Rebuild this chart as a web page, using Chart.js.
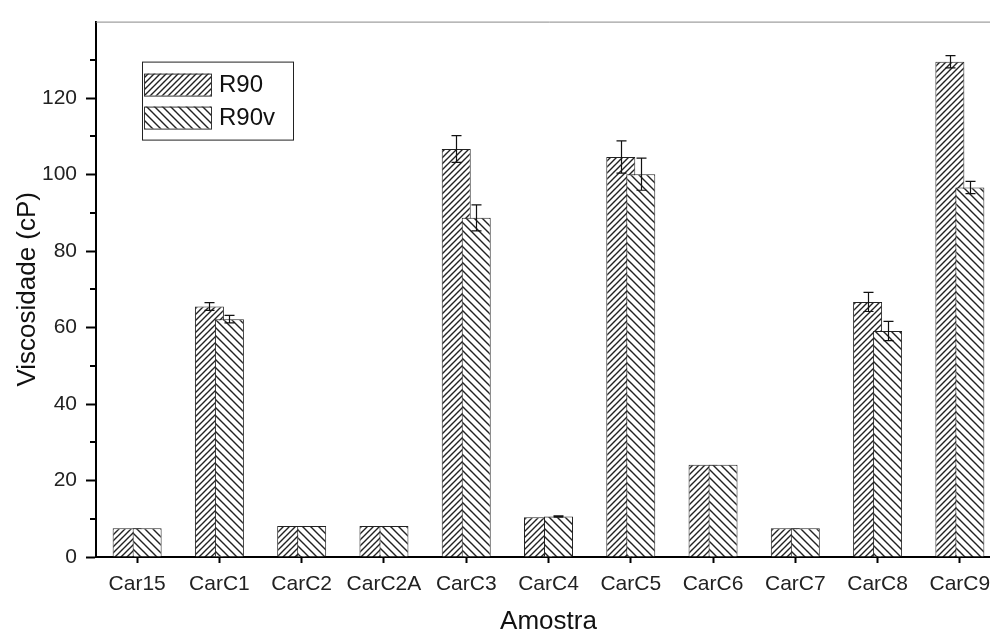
<!DOCTYPE html>
<html>
<head>
<meta charset="utf-8">
<script src="https://cdn.jsdelivr.net/npm/chart.js@4.4.1/dist/chart.umd.min.js"></script>
<style>
  html, body { margin: 0; padding: 0; background: #fff; overflow: hidden; }
  canvas { display: block; }
</style>
</head>
<body>
<canvas id="chart" width="1003" height="637"></canvas>
<script>
const samples = ['Car15', 'CarC1', 'CarC2', 'CarC2A', 'CarC3', 'CarC4', 'CarC5', 'CarC6', 'CarC7', 'CarC8', 'CarC9'];
const r90 = [7.5, 65.5, 8.1, 8.1, 106.7, 10.4, 104.6, 24.1, 7.5, 66.7, 129.5];
const r90Err = [0, 1.0, 0, 0, 3.5, 0, 4.2, 0, 0, 2.5, 1.6];
const r90v = [7.5, 62.2, 8.1, 8.1, 88.7, 10.6, 100.1, 24.1, 7.5, 59.1, 96.6];
const r90vErr = [0, 1.0, 0, 0, 3.4, 0.15, 4.2, 0, 0, 2.5, 1.6];
const yMajorTicks = [0, 20, 40, 60, 80, 100, 120];
const yMinorTicks = [10, 30, 50, 70, 90, 110, 130];

const FONT = "'Liberation Sans', Arial, sans-serif";
Chart.defaults.font.family = FONT;

const canvas = document.getElementById('chart');
const ctx = canvas.getContext('2d');

// hatch fill: forward = '/' lines, otherwise '\'
function makeHatch(spacing, forward) {
  const tile = document.createElement('canvas');
  tile.width = spacing;
  tile.height = spacing;
  const g = tile.getContext('2d');
  g.fillStyle = '#fff';
  g.fillRect(0, 0, spacing, spacing);
  g.strokeStyle = '#222';
  g.lineWidth = 1.4;
  g.beginPath();
  if (forward) {
    g.moveTo(-1, spacing + 1); g.lineTo(spacing + 1, -1);
    g.moveTo(-1, 1); g.lineTo(1, -1);
    g.moveTo(spacing - 1, spacing + 1); g.lineTo(spacing + 1, spacing - 1);
  } else {
    g.moveTo(-1, -1); g.lineTo(spacing + 1, spacing + 1);
    g.moveTo(spacing - 1, -1); g.lineTo(spacing + 1, 1);
    g.moveTo(-1, spacing - 1); g.lineTo(1, spacing + 1);
  }
  g.stroke();
  return ctx.createPattern(tile, 'repeat');
}

const hatchR90 = makeHatch(6, true);
const hatchR90v = makeHatch(8, false);

// R90 drawn first so that R90v overlaps it
const drawOrder = {
  id: 'drawOrder',
  beforeDatasetsDraw(chart) {
    chart.getDatasetMeta(0).controller.draw();
  },
  beforeDatasetDraw(chart, args) {
    if (args.index === 0) return false;
  },
};

const errorBars = {
  id: 'errorBars',
  afterDatasetsDraw(chart) {
    const c = chart.ctx;
    const y = chart.scales.y;
    c.save();
    c.strokeStyle = '#111';
    c.lineWidth = 1.2;
    chart.data.datasets.forEach((ds, di) => {
      chart.getDatasetMeta(di).data.forEach((bar, i) => {
        const err = ds.errors[i];
        if (!err) return;
        const x = Math.round(bar.x) + 0.5;
        const top = y.getPixelForValue(ds.data[i] + err);
        const bot = y.getPixelForValue(ds.data[i] - err);
        c.beginPath();
        c.moveTo(x, top); c.lineTo(x, bot);
        c.moveTo(x - 5, top); c.lineTo(x + 5, top);
        c.moveTo(x - 5, bot); c.lineTo(x + 5, bot);
        c.stroke();
      });
    });
    c.restore();
  },
};

const frame = {
  id: 'frame',
  afterDraw(chart) {
    const c = chart.ctx;
    const area = chart.chartArea;
    const y = chart.scales.y;
    c.save();
    // top border
    c.strokeStyle = '#888';
    c.lineWidth = 1;
    c.beginPath();
    c.moveTo(area.left, area.top + 0.5);
    c.lineTo(chart.width, area.top + 0.5);
    c.stroke();
    // minor ticks
    c.strokeStyle = '#000';
    c.lineWidth = 2;
    yMinorTicks.forEach(v => {
      const py = Math.round(y.getPixelForValue(v));
      c.beginPath();
      c.moveTo(area.left - 6, py);
      c.lineTo(area.left, py);
      c.stroke();
    });
    // legend
    const lx = area.left + 46;
    const ly = area.top + 40;
    c.lineWidth = 1;
    c.strokeStyle = '#222';
    c.strokeRect(lx + 0.5, ly + 0.5, 151, 78);
    c.font = `24px ${FONT}`;
    c.textBaseline = 'middle';
    chart.data.datasets.forEach((ds, i) => {
      const sy = ly + 12 + i * 33;
      c.fillStyle = ds.backgroundColor;
      c.fillRect(lx + 2, sy, 67, 22);
      c.strokeStyle = '#333';
      c.strokeRect(lx + 2.5, sy + 0.5, 67, 22);
      c.fillStyle = '#111';
      c.fillText(ds.label, lx + 77, sy + 12);
    });
    c.restore();
  },
};

new Chart(ctx, {
  type: 'bar',
  data: {
    labels: samples,
    datasets: [
      {
        label: 'R90',
        data: r90,
        errors: r90Err,
        backgroundColor: hatchR90,
        borderColor: '#222',
        borderWidth: 1,
        categoryPercentage: 0.486,
        barPercentage: 1.45,
      },
      {
        label: 'R90v',
        data: r90v,
        errors: r90vErr,
        backgroundColor: hatchR90v,
        borderColor: '#222',
        borderWidth: 1,
        categoryPercentage: 0.486,
        barPercentage: 1.45,
      },
    ],
  },
  options: {
    responsive: false,
    animation: false,
    layout: { padding: { top: 14, right: 2, left: 0, bottom: 0 } },
    plugins: {
      legend: { display: false },
      tooltip: { enabled: false },
    },
    scales: {
      x: {
        offset: true,
        grid: { drawOnChartArea: false, offset: false, tickLength: 6, tickWidth: 2, tickColor: '#000' },
        border: { color: '#000', width: 2 },
        ticks: { font: { size: 21 }, color: '#222', padding: 9, maxRotation: 0, autoSkip: false },
        title: { display: true, text: 'Amostra', font: { size: 26 }, color: '#111', padding: 0 },
        afterFit: scale => { scale.height = 80; },
      },
      y: {
        min: 0,
        max: 140,
        afterBuildTicks: axis => { axis.ticks = yMajorTicks.map(v => ({ value: v })); },
        grid: { drawOnChartArea: false, tickLength: 10, tickWidth: 2, tickColor: '#000' },
        border: { color: '#000', width: 2 },
        ticks: { font: { size: 21 }, color: '#222', padding: 9 },
        title: { display: true, text: 'Viscosidade (cP)', font: { size: 26 }, color: '#111', padding: { top: 12, bottom: 0 } },
        afterFit: scale => { scale.width = 96; },
      },
    },
  },
  plugins: [drawOrder, errorBars, frame],
});
</script>
</body>
</html>
